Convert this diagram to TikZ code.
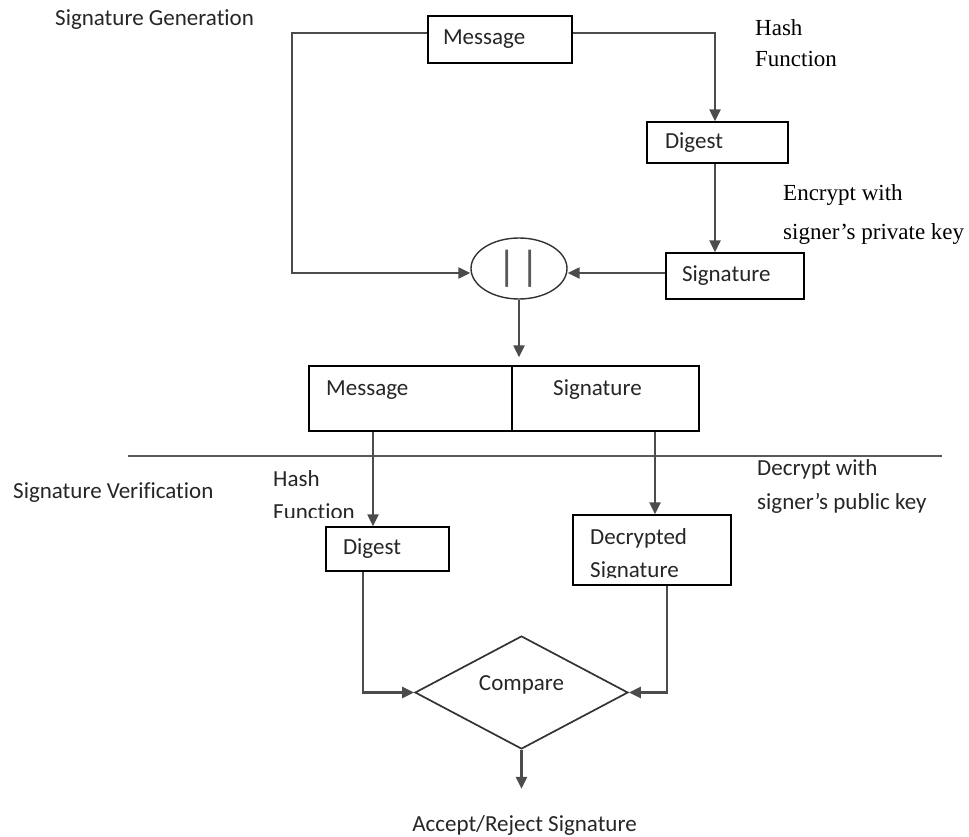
\documentclass[tikz,border=0pt]{standalone}
\usepackage{fontspec}
\setmainfont{Carlito}[Ligatures={NoCommon}]
\newfontfamily\timesf{Liberation Serif}
\usetikzlibrary{shapes.geometric,arrows.meta}
\begin{document}
\begin{tikzpicture}[x=1pt,y=-1pt,
  every node/.append style={font=\fontsize{23}{27}\selectfont, text=black!85},
  conn/.style={draw=black!70, line width=2.3pt},
  arr/.style={conn, -{Triangle[width=11pt,length=12pt]}},
  box/.style={draw=black, line width=1.4pt, rectangle, inner ysep=0pt, align=left},
  lbl/.style={inner sep=0pt, anchor=west},
  tlbl/.style={lbl, font=\timesf\fontsize{23}{27}\selectfont, text=black}
]
\useasboundingbox (0,0) rectangle (969,837);
\fill[white] (0,0) rectangle (969,837);

% ---------- Signature generation ----------
\node[lbl] (sg) at (55,20) {Signature Generation};
\node[box, inner xsep=15pt, text width=114pt, minimum height=47pt] (msg) at (500,39.5) {Message};
\node[box, inner xsep=18pt, text width=105pt, minimum height=41pt] (dig) at (717.5,142.5) {Digest};
\node[box, inner xsep=16pt, text width=106pt, minimum height=46pt] (sig) at (735,276) {Signature};
\node[ellipse, draw=black!80, line width=1.4pt, inner sep=0pt, minimum width=96pt, minimum height=61pt,
      font=\fontsize{42}{42}\selectfont, text=black!65] (ell) at (519,268.5) {|\hspace{4pt}|};

\node[tlbl] (hfa) at (755,28) {Hash};
\node[tlbl] (hfb) at (755,59) {Function};
\node[tlbl] (enca) at (783,195) {Encrypt with};
\node[tlbl] (encb) at (783,234) {signer’s private key};

\draw[arr] ([yshift=6.5pt]msg.west) -- ++(-135,0) |- ([yshift=-4.5pt]ell.west);
\draw[arr] ([yshift=6.5pt]msg.east) -| ([xshift=-2.5pt]dig.north);
\draw[arr] ([xshift=-2.5pt]dig.south) -- ([xshift=-2.5pt]dig.south |- sig.north);
\draw[arr] ([yshift=3pt]sig.west) -- ([yshift=-4.5pt]ell.east);

% ---------- combined box ----------
\node[box, minimum width=203pt, minimum height=65pt] (cm) at (410.5,398.5) {};
\node[box, minimum width=187pt, minimum height=65pt] (cs) at (605.5,398.5) {};
\node[lbl] (cmt) at (326,390) {Message};
\node[lbl] (cst) at (553,390) {Signature};
\draw[arr, shorten >=8pt] (ell.south) -- (ell.south |- cm.north);

% ---------- separator ----------
\draw[draw=black!65, line width=2.2pt] (128,456) coordinate (sepl) -- (942,456) coordinate (sepr);

% ---------- Signature verification ----------
\node[lbl] (sv) at (13,493) {Signature Verification};
\node[lbl] (hva) at (273,479) {Hash};
\begin{scope}
  \clip (260,495) rectangle (400,517);
  \node[lbl] (hvb) at (273,512) {Function};
\end{scope}
\node[lbl] (deca) at (757,469) {Decrypt with};
\node[lbl] (decb) at (757,503) {signer’s public key};

\node[box, inner xsep=17pt, text width=89pt, minimum height=44pt] (dig2) at (387.5,549) {Digest};
\node[box, minimum width=158pt, minimum height=70pt] (dec) at (652,550) {};
\node[lbl] (decta) at (590,538) {Decrypted};
\begin{scope}
  \clip (580,555) rectangle (725,577);
  \node[lbl] (dectb) at (590,572) {Signature};
\end{scope}

\draw[arr] ([xshift=-37.5pt]cm.south) -- ([xshift=-37.5pt]cm.south |- dig2.north);
\draw[arr] ([xshift=49.5pt]cs.south) -- ([xshift=49.5pt]cs.south |- dec.north);

\node[diamond, draw=black!80, line width=1.7pt, inner sep=0pt, minimum width=213pt, minimum height=113pt,
      label={[yshift=7.5pt]center:Compare}] (cmp) at (521.5,692.5) {};
\draw[arr] ([xshift=-24.5pt]dig2.south) |- (cmp.west);
\draw[arr] ([xshift=15pt]dec.south) |- (cmp.east);
\draw[arr] (cmp.south) -- ++(0,39);
\node (acc) at (524.5,825) {Accept/Reject Signature};
\end{tikzpicture}
\end{document}
